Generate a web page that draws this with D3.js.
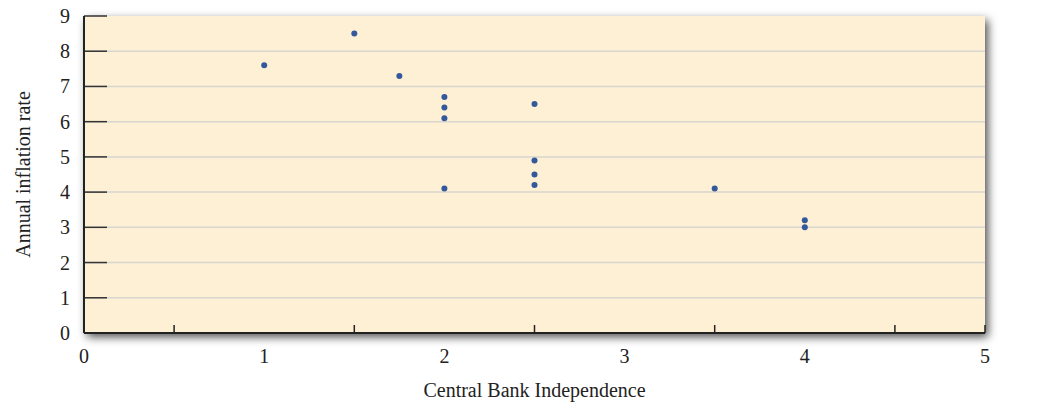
<!DOCTYPE html>
<html lang="en">
<head>
    <meta charset="UTF-8">
    <title>Central Bank Independence vs Annual inflation rate</title>
    <script src="https://d3js.org/d3.v7.min.js"></script>
    <style>
        body { margin: 0; background: #fff; }
        text { font-family: "Liberation Serif", "DejaVu Serif", serif; fill: #222; }
        .tick-label { font-size: 20px; }
        .axis-title { font-size: 20px; }
    </style>
</head>
<body>
    <div id="chart"></div>
    <script>
        // data
        const independence = [1, 1.5, 1.75, 2, 2, 2, 2, 2.5, 2.5, 2.5, 2.5, 3.5, 4, 4];
        const inflation = [7.6, 8.5, 7.3, 6.7, 6.4, 6.1, 4.1, 6.5, 4.9, 4.5, 4.2, 4.1, 3.2, 3.0];
        const xTicks = [0, 1, 2, 3, 4, 5];
        const xMinorTicks = [0.5, 1.5, 2.5, 3.5, 4.5, 5];
        const yTicks = [0, 1, 2, 3, 4, 5, 6, 7, 8, 9];

        const points = independence.map((d, i) => ({ x: d, y: inflation[i] }));

        const W = 1037, H = 402;
        const margin = { top: 16, right: 52, bottom: 69, left: 84 };
        const width = W - margin.left - margin.right;
        const height = H - margin.top - margin.bottom;

        const svg = d3.select("#chart")
            .append("svg")
            .attr("width", W)
            .attr("height", H);

        const defs = svg.append("defs");
        const filter = defs.append("filter")
            .attr("id", "shadow")
            .attr("x", "-5%").attr("y", "-10%")
            .attr("width", "110%").attr("height", "125%");
        filter.append("feDropShadow")
            .attr("dx", 3).attr("dy", 4)
            .attr("stdDeviation", 5)
            .attr("flood-color", "#000")
            .attr("flood-opacity", 0.7);

        const g = svg.append("g")
            .attr("transform", `translate(${margin.left},${margin.top})`);

        const x = d3.scaleLinear().domain([0, 5]).range([0, width]);
        const y = d3.scaleLinear().domain([0, 9]).range([height, 0]);

        // panel
        g.append("rect")
            .attr("width", width)
            .attr("height", height)
            .attr("fill", "#fdf0d4")
            .attr("filter", "url(#shadow)");

        // gridlines
        g.selectAll(".grid")
            .data(yTicks.filter(d => d > 0 && d < 9))
            .enter()
            .append("line")
            .attr("x1", 0).attr("x2", width)
            .attr("y1", d => y(d)).attr("y2", d => y(d))
            .attr("stroke", "#d9d6cf")
            .attr("stroke-width", 1.5);

        // y ticks (inside, long)
        g.selectAll(".ytick")
            .data(yTicks.filter(d => d > 0))
            .enter()
            .append("line")
            .attr("x1", 0).attr("x2", 23)
            .attr("y1", d => y(d)).attr("y2", d => y(d))
            .attr("stroke", "#333")
            .attr("stroke-width", 1.5);

        // x ticks (inside, short)
        g.selectAll(".xtick")
            .data(xMinorTicks)
            .enter()
            .append("line")
            .attr("x1", d => x(d)).attr("x2", d => x(d))
            .attr("y1", height).attr("y2", height - 8)
            .attr("stroke", "#222")
            .attr("stroke-width", 1.5);

        // axis lines
        g.append("line")
            .attr("x1", 0).attr("x2", 0)
            .attr("y1", 0).attr("y2", height)
            .attr("stroke", "#222").attr("stroke-width", 2);
        g.append("line")
            .attr("x1", 0).attr("x2", width)
            .attr("y1", height).attr("y2", height)
            .attr("stroke", "#222").attr("stroke-width", 2);

        // tick labels
        g.selectAll(".ylab")
            .data(yTicks)
            .enter()
            .append("text")
            .attr("class", "tick-label")
            .attr("x", -14)
            .attr("y", d => y(d) + 7)
            .attr("text-anchor", "end")
            .text(d => d);

        g.selectAll(".xlab")
            .data(xTicks)
            .enter()
            .append("text")
            .attr("class", "tick-label")
            .attr("x", d => x(d))
            .attr("y", height + 30)
            .attr("text-anchor", "middle")
            .text(d => d);

        // axis titles
        g.append("text")
            .attr("class", "axis-title")
            .attr("x", width / 2)
            .attr("y", height + 64)
            .attr("text-anchor", "middle")
            .text("Central Bank Independence");

        g.append("text")
            .attr("class", "axis-title")
            .attr("transform", `translate(${-54},${height / 2}) rotate(-90)`)
            .attr("text-anchor", "middle")
            .text("Annual inflation rate");

        // points
        g.selectAll(".dot")
            .data(points)
            .enter()
            .append("circle")
            .attr("class", "dot")
            .attr("cx", d => x(d.x))
            .attr("cy", d => y(d.y))
            .attr("r", 3)
            .attr("fill", "#34589c");
    </script>
</body>
</html>
